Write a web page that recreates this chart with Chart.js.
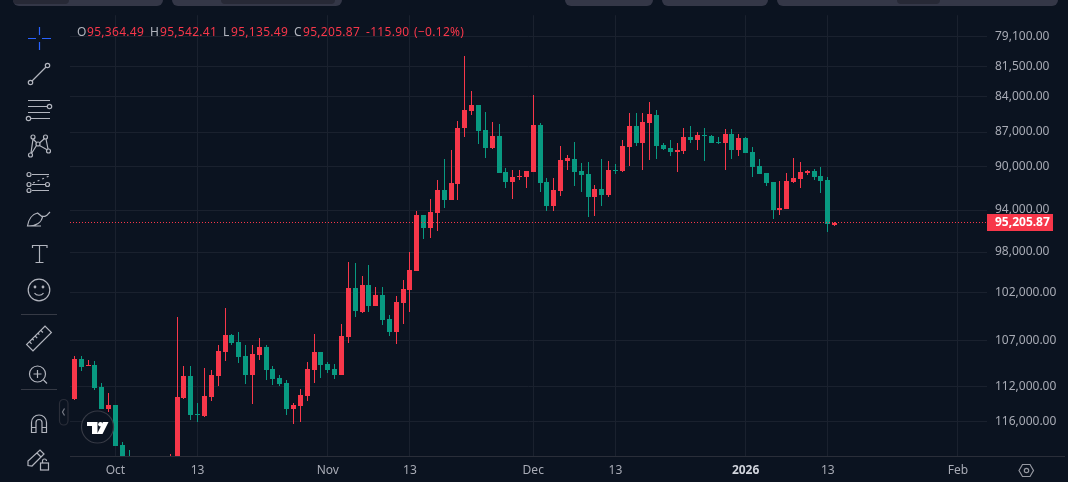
<!DOCTYPE html>
<html>
<head>
<meta charset="utf-8">
<script src="https://cdn.jsdelivr.net/npm/chart.js@4/dist/chart.umd.min.js"></script>
<style>
    html, body { margin: 0; padding: 0; width: 1068px; height: 482px; overflow: hidden; background: #0b1320; }
    #chart { position: absolute; left: 0; top: 0; }
    .overlay { position: absolute; left: 0; top: 0; }
    .tab { position: absolute; top: 0; height: 6px; background: #343747; border-radius: 0 0 6px 6px; }
    .tab.inner { height: 4px; background: #272936; }
    .axis-line { position: absolute; left: 988px; top: 456px; width: 77px; height: 1px; background: #2a2e39; }
    #legend span { position: absolute; top: 23px; font: 12px "Noto Sans", sans-serif; letter-spacing: 0.3px; white-space: nowrap; color: #f7374a; }
    #legend span.key { color: #b2b5be; }
</style>
</head>
<body>
<canvas id="chart" width="1068" height="482"></canvas>

<div class="tab" style="left:13px;width:150px"></div>
<div class="tab inner" style="left:13px;width:56px"></div>
<div class="tab" style="left:172px;width:170px"></div>
<div class="tab inner" style="left:221px;width:114px"></div>
<div class="tab" style="left:565px;width:88px"></div>
<div class="tab" style="left:662px;width:106px"></div>
<div class="tab" style="left:777px;width:281px"></div>
<div class="tab inner" style="left:897px;width:43px"></div>
<div class="axis-line"></div>

<div id="legend">
    <span class="key" style="left:77px">O</span><span style="left:87px">95,364.49</span>
    <span class="key" style="left:150px">H</span><span style="left:160px">95,542.41</span>
    <span class="key" style="left:223px">L</span><span style="left:231px">95,135.49</span>
    <span class="key" style="left:294px">C</span><span style="left:303px">95,205.87</span>
    <span style="left:366px">-115.90</span><span style="left:414px">(−0.12%)</span>
</div>

<svg class="overlay" width="1068" height="482" fill="none" stroke="#b2b5be" stroke-width="1.2">
    <!-- crosshair -->
    <path stroke="#2962ff" d="M28 38.5h8M42 38.5h9M39.5 27v8M39.5 42v8"/>
    <!-- trend line -->
    <circle cx="47.5" cy="65.5" r="2.2"/><circle cx="30.5" cy="82.5" r="2.2"/><path d="M32 81l14-14"/>
    <!-- channel lines -->
    <path d="M28 100.5h22M28 106.5h19M28 112.5h22M31 118.5h19"/>
    <circle cx="49.5" cy="106.5" r="2.2"/><circle cx="28.5" cy="118.5" r="2.2"/>
    <!-- pattern -->
    <circle cx="33" cy="137" r="2"/><circle cx="45.5" cy="137" r="2"/><circle cx="38" cy="144" r="2"/><circle cx="30.5" cy="155" r="2"/><circle cx="48.5" cy="151" r="2"/>
    <path d="M33 139l-2 14M33 139l4 4M39.5 143l5-4.500M46 139l2 10M39.500 145.500l8 4.500M36.500 145.500l-5 8"/>
    <!-- fib levels -->
    <circle cx="29" cy="174.500" r="2"/><circle cx="29" cy="184.500" r="2"/><circle cx="47.500" cy="184.500" r="2"/><circle cx="29" cy="190.500" r="2"/>
    <path d="M32 174.500h17M32 184.500h13M32 190.500h17"/><path stroke-dasharray="2 3" d="M33 183l16-7"/>
    <!-- brush -->
    <path d="M27.500 226c1-7 5-12 10-13l5 4c-1 5-6 9-15 9zM28 226h13M42 216c2 1 5 0 6-2l2-2"/>
    <!-- text -->
    <path d="M32.500 248v-2.500h14.500v2.500M39.500 245.500v17M35.500 262.500h8"/>
    <!-- emoji -->
    <circle cx="39" cy="290" r="10.800"/><circle cx="35" cy="287" r="0.800" fill="#b2b5be"/><circle cx="43" cy="287" r="0.800" fill="#b2b5be"/><path d="M34.500 293c2 3 7 3 9 0"/>
    <!-- separators -->
    <path stroke="#363a45" d="M21 314.500h36M21 389.500h36"/>
    <!-- ruler -->
    <g transform="rotate(-45 39 338.500)">
        <rect x="26" y="334" width="26" height="9"/>
        <path d="M30 334v3M34 334v2M38 334v3M42 334v2M46 334v3"/>
    </g>
    <!-- zoom -->
    <circle cx="37.500" cy="374" r="8"/><path d="M33.500 374h8M37.500 370v8M43.500 380l3.500 3.500"/>
    <!-- magnet -->
    <path d="M31.500 432.500v-10a7.500 7.500 0 0 1 15 0v10h-4.500v-10a3 3 0 0 0-6 0v10zM31.500 427.500h4.500M42 427.500h4.500"/>
    <!-- draw lock -->
    <path d="M28 465.500v-4.500l12-11 4 4-12 12zM37 453l4 4"/><rect x="40.500" y="463" width="8" height="7"/><path d="M42.500 463v-2a2 2 0 0 1 4 0"/>
    <!-- collapse button -->
    <rect x="59.500" y="399.500" width="8.500" height="25.500" rx="4.200" stroke="#2a2e39"/><path stroke="#787b86" d="M64.500 408.500l-2 3.500 2 3.500"/>
    <!-- settings -->
    <path stroke="#9598a1" d="M1019 470.500l3.500-6h7.500l3.500 6-3.500 6h-7.500z"/><circle cx="1026.500" cy="470.500" r="2.200" stroke="#9598a1"/>
    <!-- logo -->
    <circle cx="97.500" cy="427" r="16" fill="#0b1320" stroke="#363a45" stroke-width="1.200"/>
    <path stroke="none" fill="#fff" d="M87 422h10.500v12h-5.500v-8h-5zM103 422h5.500l-6 12h-5.500z"/><circle cx="100.500" cy="424.200" r="2.300" stroke="none" fill="#fff"/>
</svg>

<script>
// Daily candles, 25 Sep 2025 to 14 Jan 2026, on an inverted log price axis
const openPrices = [
    113440, 109003, 109763, 109654, 112067, 114534, 114083, 118689, 120600, 122300,
    122400, 123500, 124700, 121400, 123300, 121700, 113294, 110854, 115103, 115331,
    113182, 110854, 108251, 106445, 107185, 108681, 110745, 108573, 107717, 110088,
    111073, 111625, 114534, 114196, 113070, 110197, 108251, 109545, 110088, 110745,
    106656, 101608, 104049, 101306, 103434, 102314, 104773, 106130, 103127, 101808,
    99812, 94432, 95655, 94245, 92122, 93040, 91579, 86641, 85195, 84691,
    86812, 88373, 87330, 90497, 91398, 90947, 90947, 90497, 86384, 91398,
    93595, 92214, 89517, 89339, 90407, 90677, 92765, 92032, 92581, 90318,
    90407, 88286, 86470, 87937, 86213, 85534, 88112, 88373, 88723, 88635,
    87416, 87675, 87244, 87330, 87849, 87937, 87157, 88547, 87503, 88723,
    89962, 90587, 91398, 93965, 93873, 91398, 91127, 90587, 90407, 90857,
    91217, 95364.49
];
const highPrices = [
    113518, 110307, 109763, 112399, 114534, 114875, 118805, 121000, 122800, 122850,
    123900, 125500, 126200, 124100, 123900, 122500, 113406, 115787, 116017, 115445,
    113631, 111957, 109220, 107504, 109437, 111736, 113970, 109111, 111293, 111846,
    111957, 115217, 116248, 116017, 113631, 111625, 111073, 110526, 111183, 110745,
    107291, 104566, 104153, 104049, 103434, 105397, 106551, 107398, 105293, 104049,
    99812, 96701, 96606, 95938, 93780, 93040, 93040, 87416, 85534, 88024,
    89252, 88460, 90587, 91941, 92948, 91217, 91941, 90497, 92306, 94058,
    94058, 92673, 90318, 91760, 92306, 94619, 94526, 93595, 92765, 90677,
    90497, 89962, 88199, 90318, 89429, 89339, 88547, 89076, 90497, 88900,
    87937, 88547, 89517, 87937, 88024, 90318, 89339, 89076, 88812, 90947,
    90677, 91760, 94807, 94432, 93873, 91488, 91941, 90767, 91217, 92398,
    96033, 95542.41
];
const lowPrices = [
    108681, 108681, 109111, 109220, 111625, 112735, 114083, 118337, 119276, 121300,
    122000, 122900, 120600, 120600, 119750, 104566, 109763, 109763, 113857, 109979,
    110197, 107504, 103638, 106340, 106130, 107504, 107504, 106761, 107504, 109763,
    110745, 111293, 113857, 112288, 109328, 106340, 108251, 109328, 109545, 105293,
    98928, 99026, 100309, 99223, 101507, 101507, 104359, 102415, 100805, 97953,
    94058, 94432, 92948, 91217, 89339, 88547, 86043, 80682, 83525, 84691,
    85280, 86128, 86299, 90140, 90318, 90318, 90407, 83857, 86213, 91037,
    91037, 88199, 88988, 87849, 89695, 89606, 91669, 89339, 89517, 89784,
    87675, 85364, 85364, 85364, 84439, 85111, 87937, 87675, 87937, 86641,
    86470, 86984, 86641, 87244, 87416, 86727, 86727, 87157, 87416, 88286,
    89339, 90587, 91398, 91307, 90587, 89252, 89606, 90318, 90229, 90051,
    90947, 95135.49
];
const closePrices = [
    109003, 109871, 109654, 112178, 114534, 114083, 118805, 120600, 122300, 122400,
    123500, 124700, 121400, 123300, 121700, 113182, 110854, 115217, 115217, 113070,
    110745, 108143, 106445, 107291, 108788, 110745, 108466, 107717, 110197, 111183,
    111736, 114534, 114083, 112959, 110088, 108251, 109654, 110197, 110745, 106551,
    101608, 103946, 101306, 103434, 102314, 104876, 106130, 103024, 101708, 99714,
    94432, 95655, 94152, 92122, 93040, 91488, 86641, 85111, 84691, 86898,
    88373, 87330, 90587, 91398, 90947, 90857, 90407, 86384, 91488, 93595,
    92122, 89429, 89252, 90497, 90767, 92765, 92032, 92581, 90318, 90407,
    88199, 86470, 87937, 86128, 85449, 88199, 88460, 88723, 88547, 87416,
    87675, 87244, 87330, 87937, 87937, 87157, 88547, 87503, 88812, 90051,
    90677, 91488, 93965, 93780, 91307, 91037, 90497, 90407, 90947, 91307,
    95321.77, 95205.87
];

const priceTicks = [79100, 81500, 84000, 87000, 90000, 94000, 98000, 102000, 107000, 112000, 116000];
const dateTickLabels = ['Oct', '13', 'Nov', '13', 'Dec', '13', '2026', '13', 'Feb'];
const dateTickIndexes = [6, 18, 37, 49, 67, 79, 98, 110, 129];

const UP_COLOR = '#089981';
const DOWN_COLOR = '#f7374a';
const GRID_COLOR = '#1a212e';
const TEXT_COLOR = '#a8abb5';
const YEAR_TICK = 98;
const lastClose = closePrices[closePrices.length - 1];

const formatPrice = value => value.toLocaleString('en-US', { minimumFractionDigits: 2, maximumFractionDigits: 2 });
const candleColors = openPrices.map((open, i) => (closePrices[i] < open ? DOWN_COLOR : UP_COLOR));
const isYearTick = ctx => Boolean(ctx.tick) && ctx.tick.value === YEAR_TICK;

// Keep bodies and wicks on whole pixels so they stay as crisp as the original
const snapPlugin = {
    id: 'snap',
    afterDatasetsUpdate(chart) {
        chart.getSortedVisibleDatasetMetas().forEach(meta => {
            meta.data.forEach(el => {
                if (meta.type === 'line') {
                    el.x = Math.round(el.x);
                    el.y = Math.floor(el.y) + 0.5;
                    return;
                }
                el.x = Math.floor(el.x) + 0.5;
                el.y = Math.round(el.y);
                el.base = Math.round(el.base);
                if (el.y === el.base) el.base = el.y + 1;
            });
        });
    }
};

const priceTagPlugin = {
    id: 'priceTag',
    afterDraw(chart) {
        const ctx = chart.ctx;
        const y = Math.floor(chart.scales.y.getPixelForValue(lastClose)) + 0.5;
        ctx.save();
        ctx.fillStyle = DOWN_COLOR;
        ctx.fillRect(987, y - 8.5, 66, 17);
        ctx.fillStyle = '#ffffff';
        ctx.font = 'bold 12px "Noto Sans", sans-serif';
        ctx.textAlign = 'left';
        ctx.textBaseline = 'middle';
        ctx.fillText(formatPrice(lastClose), 995, y);
        ctx.restore();
    }
};

new Chart(document.getElementById('chart'), {
    type: 'bar',
    data: {
        datasets: [
            {
                type: 'line',
                data: [{ x: -1, y: lastClose }, { x: 134, y: lastClose }],
                borderColor: DOWN_COLOR,
                borderWidth: 1,
                borderDash: [1, 2],
                pointRadius: 0,
                order: 0
            },
            {
                data: openPrices.map((open, i) => ({ x: i, y: [Math.min(open, closePrices[i]), Math.max(open, closePrices[i])] })),
                backgroundColor: candleColors,
                barThickness: 5,
                grouped: false,
                inflateAmount: 0,
                order: 1
            },
            {
                data: lowPrices.map((low, i) => ({ x: i, y: [low, highPrices[i]] })),
                backgroundColor: candleColors,
                barThickness: 1,
                grouped: false,
                inflateAmount: 0,
                order: 2
            }
        ]
    },
    options: {
        responsive: false,
        animation: false,
        devicePixelRatio: 1,
        layout: { padding: { left: 70, top: 14 } },
        plugins: { legend: { display: false }, tooltip: { enabled: false } },
        scales: {
            x: {
                type: 'linear',
                min: -0.628,
                max: 133.24,
                offset: false,
                afterBuildTicks: scale => { scale.ticks = dateTickIndexes.map(value => ({ value })); },
                afterFit: scale => { scale.height = 26; },
                grid: { color: GRID_COLOR, drawTicks: false, offset: false },
                border: { color: '#2a2e39' },
                ticks: {
                    autoSkip: false,
                    maxRotation: 0,
                    padding: 7,
                    color: ctx => (isYearTick(ctx) ? '#d1d4dc' : TEXT_COLOR),
                    font: ctx => ({ family: '"Noto Sans", sans-serif', size: 12, weight: isYearTick(ctx) ? 'bold' : 'normal' }),
                    callback: value => dateTickLabels[dateTickIndexes.indexOf(value)]
                }
            },
            y: {
                type: 'logarithmic',
                position: 'right',
                reverse: true,
                min: 77473,
                max: 119985,
                afterBuildTicks: scale => { scale.ticks = priceTicks.map(value => ({ value })); },
                afterFit: scale => { scale.width = 81; },
                grid: { color: GRID_COLOR, drawTicks: false },
                border: { display: false },
                ticks: {
                    autoSkip: false,
                    padding: 8,
                    crossAlign: 'near',
                    color: TEXT_COLOR,
                    font: { family: '"Noto Sans", sans-serif', size: 12 },
                    callback: value => formatPrice(value)
                }
            }
        }
    },
    plugins: [snapPlugin, priceTagPlugin]
});
</script>
</body>
</html>
